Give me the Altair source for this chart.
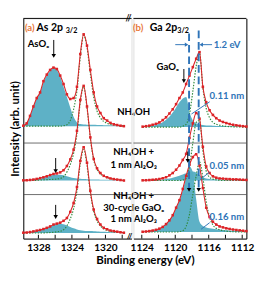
import altair as alt
import pandas as pd

FONT = "Lato"
RED = "#dc2327"
TEAL = "#55adc3"
GREEN = "#2f8a3c"
BLUE = "#2f74b8"
ORANGE = "#e8783a"

# ---------------- As 2p3/2 panel (binding energy, eV) ----------------
E_AS = [1329.8, 1329.4, 1329.0, 1328.6, 1328.2, 1327.8, 1327.4, 1327.0, 1326.6, 1326.2,
        1325.8, 1325.4, 1325.0, 1324.6, 1324.2, 1323.8, 1323.4, 1323.0, 1322.6, 1322.2,
        1321.8, 1321.4, 1321.0, 1320.6, 1320.2, 1319.8, 1319.4, 1319.0, 1318.6, 1318.2, 1317.8]
AS_TOP = [0.5, 3, 11, 21, 30, 36, 48, 55, 60, 62.5, 61, 54, 45, 34, 29, 30, 42, 77, 98, 86,
          60, 36, 21, 14, 8.5, 6, 3.5, 2, 1.2, 0.5, 0]
AS_TOP_OX = [0.5, 3, 11, 21, 30, 36, 47, 54, 59, 62, 60, 53, 42, 31, 20, 10, 4, 2.2, 1.8, 1.6,
             1.5, 1.4, 1.3, 1.2, 1.1, 1.0, 0.9, 0.8, 0.7, 0.6, 0.5]
AS_TOP_SUB = [0, 0, 0, 0, 0, 0, 0, 0, 0, 0, 0, 0, 0.5, 1.5, 6, 18, 38, 74, 97, 84,
              56, 31, 16, 9, 5, 3, 2, 1.2, 0.7, 0.4, 0.2]
AS_MID = [0.2, 0.3, 0.6, 1, 1.7, 2.5, 3.4, 4.5, 5.8, 7, 7.6, 8.7, 11, 15.5, 22.5, 33, 53, 86, 101, 79,
          46, 23, 13, 8, 5, 3.5, 2.2, 1.5, 1, 0.5, 0]
AS_MID_OX = [0.2, 0.3, 0.6, 1, 1.5, 2.2, 3, 4, 5, 5.8, 6.2, 6.2, 5.6, 4.6, 3.6, 2.8, 2.2, 1.8, 1.5, 1.3,
             1.2, 1.1, 1.0, 0.9, 0.8, 0.7, 0.6, 0.5, 0.4, 0.3, 0.2]
AS_MID_SUB = [0, 0, 0, 0, 0.3, 0.5, 0.7, 0.9, 1.1, 1.3, 1.6, 2.2, 4, 9, 17, 29, 50, 84, 100, 78,
              45, 22, 12, 7, 4.5, 3, 2, 1.3, 0.8, 0.4, 0.2]
AS_BOT = [0.3, 0.5, 1, 1.7, 2.5, 3.2, 4.2, 5.5, 7, 9, 10, 11, 13, 16, 22.5, 32, 49, 77, 91.5, 75,
          45, 25, 15, 9, 5.5, 4, 2.6, 2, 1.4, 0.8, 0.3]
AS_BOT_OX = [0.3, 0.5, 1, 1.6, 2.4, 3.2, 4.2, 5.5, 7, 8.5, 9.5, 9.8, 9.2, 8, 6.5, 5, 3.8, 3, 2.5, 2.2,
             2, 1.8, 1.6, 1.4, 1.2, 1.0, 0.9, 0.8, 0.6, 0.5, 0.4]
AS_BOT_SUB = [0, 0, 0, 0, 0, 0, 0, 0.3, 0.5, 0.8, 1.2, 1.8, 3.5, 7.5, 15, 26, 45, 74, 89, 72,
              43, 23, 13, 7.5, 4.3, 2.8, 1.7, 1.1, 0.7, 0.4, 0.2]
AS_BASE = [120, 62, 6]

# ---------------- Ga 2p3/2 panel ----------------
E_GA = [1123.9, 1123.5, 1123.1, 1122.7, 1122.3, 1121.9, 1121.5, 1121.1, 1120.7, 1120.3,
        1119.9, 1119.5, 1119.1, 1118.7, 1118.3, 1117.9, 1117.5, 1117.1, 1116.7, 1116.3,
        1115.9, 1115.5, 1115.1, 1114.7, 1114.3, 1113.9, 1113.5, 1113.1, 1112.7, 1112.3, 1111.9, 1111.5]
GA_TOP = [0.5, 1, 1.5, 2.5, 3.5, 5, 7.5, 10.5, 14.5, 19, 24.5, 31, 37, 46, 55, 64, 73, 80, 43, 26.5,
          18, 13, 9.5, 7, 5.5, 4.3, 3.3, 2.5, 1.9, 1.4, 1, 0.6]
GA_TOP_OX = [0.3, 0.6, 1, 1.6, 2.4, 3.6, 5.2, 7.8, 11, 15.5, 21, 26.5, 30.5, 32, 16, 7, 4, 2.8, 2.2, 1.8,
             1.6, 1.4, 1.3, 1.2, 1.1, 1, 0.9, 0.8, 0.7, 0.6, 0.5, 0.4]
GA_TOP_SUB = [0, 0, 0, 0, 0, 0, 0, 0, 0, 0, 0, 0, 1, 3, 14, 38, 65, 79, 42, 20,
              10, 5, 3, 2, 1.3, 0.8, 0.5, 0.3, 0.2, 0.1, 0, 0]
GA_MID = [0.2, 0.3, 0.5, 0.8, 1.1, 1.6, 2.4, 3.5, 5.5, 8, 11.5, 16, 22, 28.5, 45.5, 61, 72, 66, 36, 15,
          8, 4.5, 3, 2.2, 2, 1.6, 1.5, 1.2, 1.2, 1, 0.8, 0.6]
GA_MID_OX = [0.1, 0.2, 0.3, 0.4, 0.6, 0.8, 1.1, 1.6, 2.2, 3, 4, 5.2, 6.5, 7.8, 9, 9.5, 8.5, 6, 3.5, 2.2,
             1.6, 1.3, 1.1, 1, 0.9, 0.8, 0.7, 0.6, 0.5, 0.4, 0.3, 0.2]
GA_MID_SUB = [0, 0, 0, 0, 0, 0, 0, 0, 0, 0, 0, 0, 0.5, 2, 15, 40, 62, 64, 32, 10,
              3.5, 1.5, 0.7, 0.3, 0, 0, 0, 0, 0, 0, 0, 0]
GA_BOT = [0.3, 0.6, 1, 1.6, 2.4, 3.6, 5.5, 8.5, 12.5, 18, 26, 34, 46, 60, 72, 80, 83, 71, 47, 26,
          16, 11, 8, 6, 5, 4, 3.3, 2.7, 2.2, 1.8, 1.4, 1.0]
GA_BOT_OX = [0.3, 0.6, 1, 1.6, 2.4, 3.6, 5.5, 8.5, 12.5, 18, 26, 34, 45, 58, 70, 64, 35, 11, 6.5, 4.8,
             4, 3.5, 3, 2.6, 2.2, 1.9, 1.6, 1.3, 1.1, 0.9, 0.7, 0.5]
GA_BOT_SUB = [0, 0, 0, 0, 0, 0, 0, 0, 0, 0, 0, 0.5, 1.5, 6, 19, 40, 60, 75, 58, 32,
              16, 7.5, 4, 2.5, 1.5, 1, 0.6, 0.3, 0.2, 0.1, 0, 0]
GA_BASE = [119, 62, 7]

AS_TICKS = [1328, 1326, 1324, 1322, 1320, 1318]
AS_LABELS = [1328, 1324, 1320]
GA_TICKS = [1124, 1122, 1120, 1118, 1116, 1114, 1112]
GA_LABELS = [1124, 1120, 1116, 1112]
SEPARATORS = [102, 47]

W_L, W_R, H = 113, 118, 230
YDOM = [0, 235]


def spectra(E, bases, series):
    rows = []
    for name, b, (d, o, m) in zip(["top", "mid", "bot"], bases, series):
        for e, dv, ov, mv in zip(E, d, o, m):
            rows.append(dict(E=e, spec=name, base=b, yd=b + dv, yo=b + ov, ym=b + mv))
    return pd.DataFrame(rows)


df_as = spectra(E_AS, AS_BASE, [(AS_TOP, AS_TOP_OX, AS_TOP_SUB),
                                (AS_MID, AS_MID_OX, AS_MID_SUB),
                                (AS_BOT, AS_BOT_OX, AS_BOT_SUB)])
df_ga = spectra(E_GA, GA_BASE, [(GA_TOP, GA_TOP_OX, GA_TOP_SUB),
                                (GA_MID, GA_MID_OX, GA_MID_SUB),
                                (GA_BOT, GA_BOT_OX, GA_BOT_SUB)])


def panel(df, xdom, width, xaxis, yaxis, ticks, annotations):
    xs = alt.Scale(domain=xdom, reverse=True, nice=False, zero=False)
    ys = alt.Scale(domain=YDOM, nice=False, zero=False)

    def X(f="E"):
        return alt.X(f"{f}:Q", scale=xs, axis=xaxis)

    def Y(f):
        return alt.Y(f"{f}:Q", scale=ys, axis=yaxis)

    layers = []
    layers.append(alt.Chart(pd.DataFrame({"top": [YDOM[1]]})).mark_rule(
        color="black", strokeWidth=1).encode(y=Y("top")))
    layers.append(alt.Chart(pd.DataFrame({"v": SEPARATORS})).mark_rule(
        color="#444444", strokeWidth=0.8).encode(y=Y("v")))
    layers.append(alt.Chart(pd.DataFrame({"E": ticks})).mark_rule(
        color="black", strokeWidth=1).encode(x=X(), y=alt.value(H), y2=alt.value(H - 4)))
    base = alt.Chart(df)
    layers.append(base.mark_area(color=TEAL, opacity=0.95, interpolate="monotone").encode(
        x=X(), y=Y("yo"), y2=alt.Y2("base:Q"), detail="spec:N"))
    layers.append(base.mark_line(color=GREEN, strokeWidth=1.2, strokeDash=[1.5, 1.5],
                                 interpolate="monotone").encode(x=X(), y=Y("ym"), detail="spec:N"))
    layers.append(base.mark_line(color=RED, strokeWidth=1.1, interpolate="monotone").encode(
        x=X(), y=Y("yd"), detail="spec:N"))
    layers.append(base.mark_point(color=RED, filled=True, opacity=1, size=7, shape="square").encode(
        x=X(), y=Y("yd"), detail="spec:N"))
    for kind, d, style in annotations:
        c = alt.Chart(pd.DataFrame(d))
        if kind == "text":
            layers.append(c.mark_text(baseline="middle", font=FONT, **style).encode(
                x=X(), y=Y("v"), text="text:N"))
        elif kind == "rule":
            layers.append(c.mark_rule(**style).encode(
                x=X(), x2=alt.X2("E2:Q"), y=Y("v"), y2=alt.Y2("v2:Q")))
        elif kind == "point":
            layers.append(c.mark_point(filled=True, opacity=1, **style).encode(x=X(), y=Y("v")))
    return alt.layer(*layers).properties(width=width, height=H)


TXT = dict(fontWeight="bold", color="black", fontSize=10, align="center")

as_xaxis = alt.Axis(values=AS_LABELS, ticks=False, grid=False, format="d",
                    labelFont=FONT, labelFontSize=10.5, labelFontWeight="bold", labelPadding=4,
                    labelColor="black", domainColor="black",
                    title="Binding energy (eV)", titleX=127, titleFont=FONT, titleFontSize=12,
                    titleFontWeight="bold", titlePadding=3, titleColor="black")
as_yaxis = alt.Axis(labels=False, ticks=False, grid=False, domainColor="black",
                    title="Intensity (arb. unit)", titleFont=FONT, titleFontSize=12,
                    titleFontWeight="bold", titlePadding=2, titleColor="black")

LAB_E = 1316.63
as_ann = [
    ("text", {"E": [1329.03], "v": [225], "text": ["(a)"]},
     dict(color=ORANGE, fontSize=10, fontWeight="bold", align="center")),
    ("text", {"E": [1328.23], "v": [225], "text": ["As 2p"]},
     dict(color="black", fontSize=11, fontWeight="bold", align="left")),
    ("text", {"E": [1324.75], "v": [221.5], "text": ["3/2"]},
     dict(color="black", fontSize=7.5, fontWeight="bold", align="left")),
    ("text", {"E": [1328.0], "v": [208], "text": ["AsOₓ"]}, TXT),
    ("text", {"E": [LAB_E] * 6, "v": [135, 92, 78, 45, 33, 21],
              "text": ["NH₄OH", "NH₄OH +", "1 nm Al₂O₃", "NH₄OH +", "30-cycle GaOₓ", "1 nm Al₂O₃"]}, TXT),
    ("rule", {"E": [1326.17, 1325.94, 1325.94], "E2": [1326.17, 1325.94, 1325.94],
              "v": [212, 86, 36], "v2": [196, 73, 24]}, dict(color="black", strokeWidth=1)),
    ("point", {"E": [1326.17, 1325.94, 1325.94], "v": [195, 72, 23]},
     dict(shape="triangle-down", size=22, color="black")),
    ("text", {"E": [1317.25], "v": [235], "text": ["//"]},
     dict(color="black", fontSize=9, fontWeight="bold", align="center")),
    ("text", {"E": [1317.1], "v": [2], "text": ["//"]},
     dict(color="black", fontSize=8, fontWeight="bold", align="center")),
]

ga_xaxis = alt.Axis(values=GA_LABELS, ticks=False, grid=False, format="d",
                    labelFont=FONT, labelFontSize=10.5, labelFontWeight="bold", labelPadding=4,
                    labelColor="black", domainColor="black", title=None)
ga_yaxis = alt.Axis(orient="right", labels=False, ticks=False, grid=False,
                    domainColor="black", title=None)

BTXT = dict(fontWeight="bold", color=BLUE, fontSize=10, align="center")
ga_ann = [
    ("text", {"E": [1124.43], "v": [225], "text": ["(b)"]},
     dict(color=ORANGE, fontSize=10, fontWeight="bold", align="center")),
    ("text", {"E": [1123.05], "v": [225], "text": ["Ga 2p"]},
     dict(color="black", fontSize=11, fontWeight="bold", align="left")),
    ("text", {"E": [1119.75], "v": [221.5], "text": ["3/2"]},
     dict(color="black", fontSize=7.5, fontWeight="bold", align="left")),
    ("rule", {"E": [1118.35, 1117.2], "E2": [1118.35, 1117.2], "v": [219, 222], "v2": [54, 54]},
     dict(color=BLUE, strokeWidth=2, strokeDash=[8, 4])),
    ("point", {"E": [1118.35, 1117.2], "v": [52, 52]},
     dict(shape="triangle-down", size=22, color="black")),
    ("rule", {"E": [1120.0, 1115.6], "E2": [1118.7, 1116.85], "v": [207, 207], "v2": [207, 207]},
     dict(color=BLUE, strokeWidth=1)),
    ("point", {"E": [1118.65], "v": [207]}, dict(shape="triangle-right", size=18, color=BLUE)),
    ("point", {"E": [1116.9], "v": [207]}, dict(shape="triangle-left", size=18, color=BLUE)),
    ("text", {"E": [1115.4], "v": [207], "text": ["1.2 eV"]},
     dict(fontWeight="bold", color=BLUE, fontSize=10, align="left")),
    ("text", {"E": [1120.91], "v": [183], "text": ["GaOₓ"]}, TXT),
    ("rule", {"E": [1118.97, 1118.51], "E2": [1118.97, 1118.51], "v": [181, 93], "v2": [169, 84]},
     dict(color="black", strokeWidth=1)),
    ("point", {"E": [1118.97, 1118.51], "v": [168, 83]},
     dict(shape="triangle-down", size=20, color="black")),
    ("text", {"E": [1113.83] * 3, "v": [152, 77, 23], "text": ["0.11 nm", "0.05 nm", "0.16 nm"]}, BTXT),
    ("rule", {"E": [1115.89, 1115.89, 1115.89], "E2": [1118.06, 1117.03, 1116.91],
              "v": [146, 71, 17], "v2": [133, 63, 10]}, dict(color=BLUE, strokeWidth=1)),
]

left = panel(df_as, [1316.89, 1329.8], W_L, as_xaxis, as_yaxis, AS_TICKS, as_ann)
right = panel(df_ga, [1111.5, 1125.0], W_R, ga_xaxis, ga_yaxis, GA_TICKS, ga_ann)

chart = alt.hconcat(left, right, spacing=2, bounds="flush").properties(
    padding=0
).configure_view(stroke=None).configure(font=FONT)

chart.save("out.html", embed_options={"renderer": "svg", "actions": False})
